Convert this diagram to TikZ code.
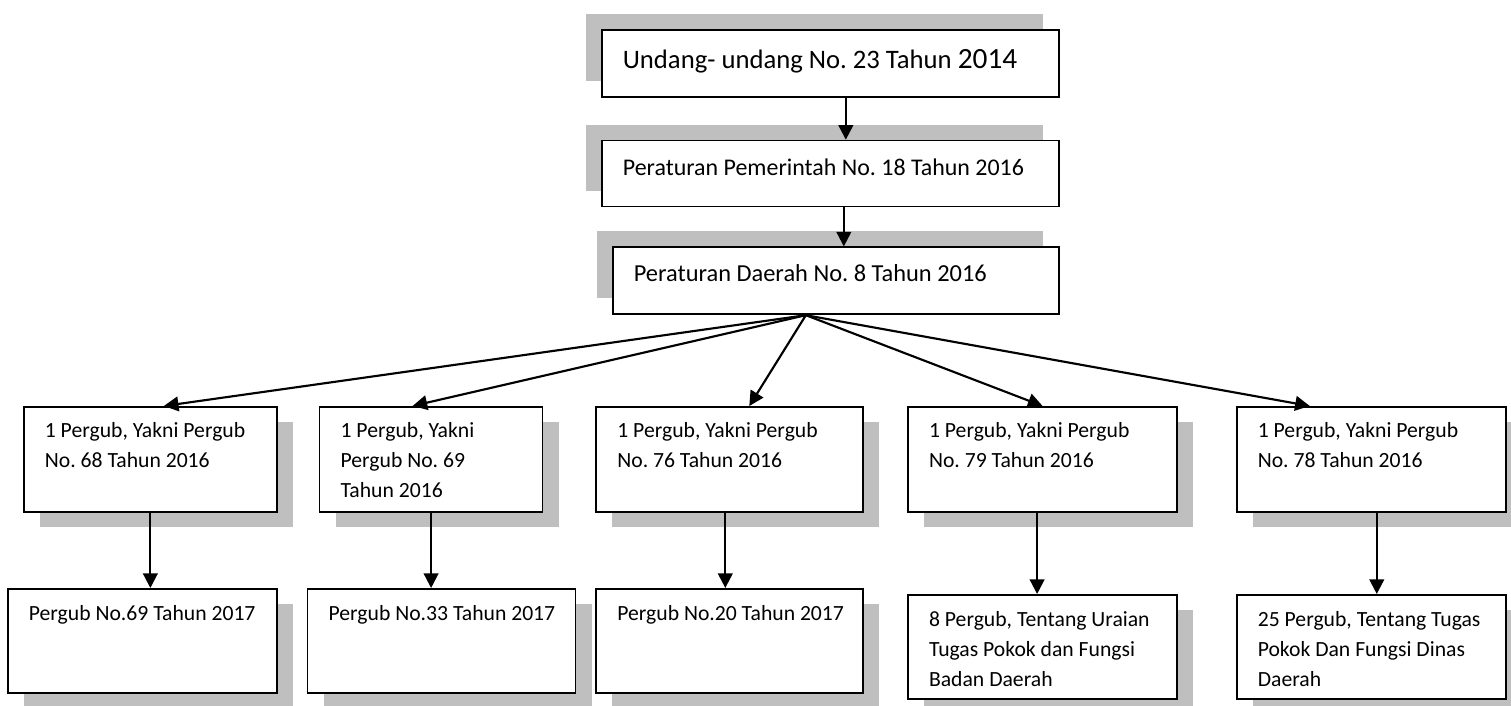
\documentclass[tikz,border=0pt]{standalone}
\usepackage{fontspec}
\setmainfont{Carlito}
\usetikzlibrary{arrows.meta,shadows,positioning}
\definecolor{shadeGray}{RGB}{191,191,191}
\frenchspacing

\begin{document}
\begin{tikzpicture}[x=0.75pt, y=-0.75pt,
    lawbox/.style={draw, line width=1.3pt, fill=white, inner sep=0pt, align=flush left,
      execute at begin node={\leftskip=15.75pt}},
    upshade/.style={drop shadow={shadow xshift=-12pt, shadow yshift=12pt, fill=shadeGray, opacity=1}},
    downshade/.style={drop shadow={shadow xshift=12pt, shadow yshift=-11.25pt, fill=shadeGray, opacity=1}},
    midbox/.style={lawbox, downshade, text height=23.25pt, text depth=55.5pt, font=\fontsize{16.25pt}{22.5pt}\selectfont},
    lowbox/.style={lawbox, downshade, text height=24pt, text depth=54pt, font=\fontsize{16.25pt}{22.5pt}\selectfont},
    link/.style={-{Triangle[length=11pt, width=11pt]}, line width=1.6pt}]
    \useasboundingbox (0,0) rectangle (1511,706);

    % top chain
    \node[lawbox, upshade, text width=342.75pt, text height=29.25pt, text depth=21pt, font=\fontsize{20pt}{24pt}\selectfont, anchor=north west] (uu) at (601,29) {Undang- undang No. 23 Tahun {\fontsize{22pt}{24pt}\selectfont 2014}};
    \node[lawbox, upshade, text width=342.75pt, text height=26.25pt, text depth=23.25pt, font=\fontsize{17.95pt}{22pt}\selectfont, below=31.5pt of uu] (pp) {Peraturan Pemerintah No. 18 Tahun 2016};
    \node[lawbox, upshade, text width=334.5pt, text height=25.5pt, text depth=24.75pt, font=\fontsize{18.3pt}{22pt}\selectfont, below=29.25pt of pp.south east, anchor=north east] (pd) {Peraturan Daerah No. 8 Tahun 2016};

    % pergub row
    \node[midbox, text width=189.75pt, anchor=north west] (ma) at (23,406) {1 Pergub, Yakni Pergub\\No. 68 Tahun 2016};
    \node[midbox, text width=167.25pt, right=30.75pt of ma] (mb) {1 Pergub, Yakni\\Pergub No. 69\\Tahun 2016};
    \node[midbox, text width=200.25pt, right=39pt of mb] (mc) {1 Pergub, Yakni Pergub\\No. 76 Tahun 2016};
    \node[midbox, text width=201.75pt, right=32.25pt of mc] (md) {1 Pergub, Yakni Pergub\\No. 79 Tahun 2016};
    \node[midbox, text width=201.75pt, right=43.5pt of md] (me) {1 Pergub, Yakni Pergub\\No. 78 Tahun 2016};

    % bottom row
    \node[lowbox, text width=201.75pt, anchor=north west] (la) at (7,588) {Pergub No.69 Tahun 2017};
    \node[lowbox, text width=201pt, right=21.75pt of la] (lb) {Pergub No.33 Tahun 2017};
    \node[lowbox, text width=200.25pt, right=14.25pt of lb] (lc) {Pergub No.20 Tahun 2017};
    \node[lowbox, text width=201.75pt, right=32.25pt of lc, yshift=-4.5pt] (ld) {8 Pergub, Tentang Uraian\\Tugas Pokok dan Fungsi\\Badan Daerah};
    \node[lowbox, text width=201.75pt, right=43.5pt of ld] (le) {25 Pergub, Tentang Tugas\\Pokok Dan Fungsi Dinas\\Daerah};

    \coordinate (hub) at ([xshift=-22.5pt]pd.south);

    \draw[link] ([xshift=11.6pt]uu.south) -- ([xshift=11.6pt]pp.north);
    \draw[link] ([xshift=10.1pt]pp.south) -- ([xshift=10.1pt]pp.south |- pd.north);
    \draw[link] (hub) -- ([xshift=10.1pt]ma.north);
    \draw[link] (hub) -- ([xshift=-13.9pt]mb.north);
    \draw[link] (hub) -- ([xshift=14.6pt]mc.north);
    \draw[link] (hub) -- (md.north);
    \draw[link] (hub) -- ([xshift=-46.1pt]me.north);
    \draw[link] (ma.south) -- (ma.south |- la.north);
    \draw[link] (mb.south) -- (mb.south |- lb.north);
    \draw[link] ([xshift=-3.4pt]mc.south) -- ([xshift=-3.4pt]mc.south |- lc.north);
    \draw[link] ([xshift=-4.1pt]md.south) -- ([xshift=-4.1pt]md.south |- ld.north);
    \draw[link] ([xshift=4.1pt]me.south) -- ([xshift=4.1pt]me.south |- le.north);
\end{tikzpicture}
\end{document}
